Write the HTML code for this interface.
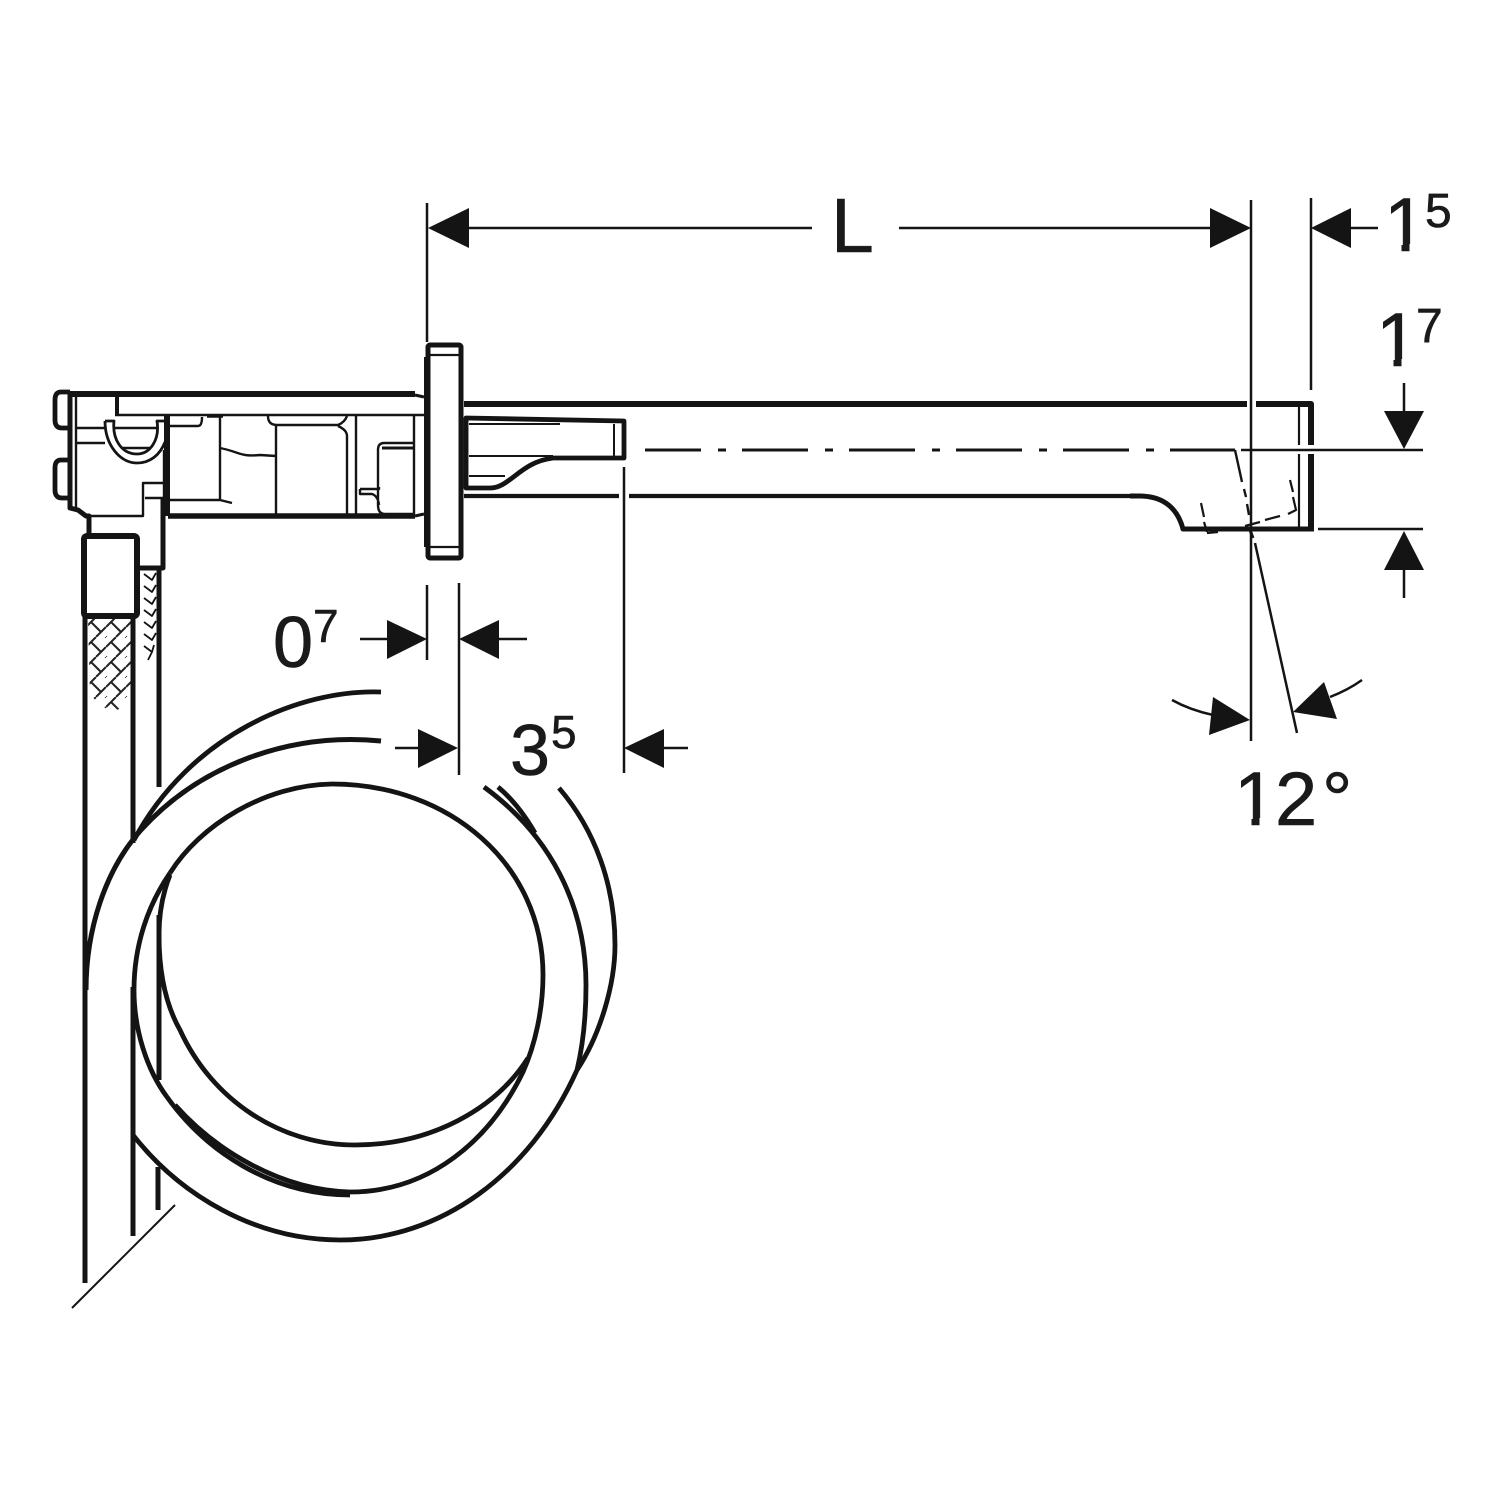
<!DOCTYPE html>
<html><head><meta charset="utf-8"><style>html,body{margin:0;padding:0;background:#fff}svg{display:block}text{font-family:"Liberation Sans",sans-serif;fill:#1a1a1a;stroke:#1a1a1a;stroke-width:.6}</style></head>
<body>
<svg width="1500" height="1500" viewBox="0 0 1500 1500" xmlns="http://www.w3.org/2000/svg">
<defs>
<pattern id="hb" x="86" y="617" width="20" height="20" patternUnits="userSpaceOnUse">
<path d="M0 10L10 0M10 20L20 10M5 5L15 15M-5 15L5 25M15 -5L25 5" fill="none" stroke="#222" stroke-width="2"/>
</pattern>
</defs>
<rect width="1500" height="1500" fill="#fff"/>
<g fill="none" stroke="#141414" stroke-linecap="butt" stroke-linejoin="round">
<!-- braids -->
<polygon points="88,619 131,619 131,695 124,706 112,713 100,704 90,695" fill="url(#hb)" stroke="none"/>
<path stroke-width="1.8" d="M144,574l8,6l4,-7M144,586l8,6l4,-7M144,598l8,6l4,-7M144,610l8,6l4,-7M144,622l8,6l4,-7M144,634l8,6l4,-7M144,646l8,6l2,-7M152,652l-4,8"/>
<!-- hose tubes -->
<path stroke-width="5" d="M85,617V1283M133,617V843M133,987V1236M159,570V787M159,915V1080M158,1167V1210"/>
<path stroke-width="2" d="M72,1308L175,1205"/>
<!-- hose loops -->
<g stroke-width="4.8">
<path d="M170,873C200,825 265,785 332,784C450,784 543,865 543,975C543,1010 535,1045 523,1072C490,1140 430,1192 350,1192C280,1190 215,1150 175,1105"/>
<path d="M170,873C148,905 134,945 134,990C134,1030 147,1070 167,1097C205,1150 270,1195 350,1195"/>
<path d="M170,875C162,895 159,915 159,935C159,965 163,1000 180,1030C212,1100 280,1145 355,1145C430,1145 495,1110 528,1058"/>
<path d="M484,787C550,835 586,905 586,985C586,1015 583,1045 577,1070C530,1175 440,1240 340,1240C255,1240 180,1195 133,1135"/>
<path d="M498,787C510,797 523,812 535,833"/>
<path d="M559,788C595,830 615,885 615,945C615,985 600,1035 577,1070"/>
<path d="M381,692C300,689 190,735 134,840"/>
<path d="M381,741C290,732 200,765 141,830C105,870 86,930 86,990" stroke-width="5"/>
</g>
<!-- connector -->
<rect x="84" y="536" width="53" height="80" rx="3" stroke-width="6" fill="#fff"/>
<!-- housing -->
<path stroke-width="6" d="M70,394H415"/>
<path stroke-width="5" d="M70,394V508L78,510L86,516H89V534"/>
<path stroke-width="4.8" d="M70,392H61Q55,392 55,400V420Q55,428 62,428H70M70,460H61Q55,460 55,468V490Q55,498 62,498H70"/>
<path stroke-width="6" d="M167,415V516"/>
<path stroke-width="5" d="M163,498V568H138"/>
<path stroke-width="5.5" d="M168,516H415"/>
<path stroke-width="4" d="M117,397V415"/>
<g stroke-width="2.4">
<path d="M76,396V508M115,415H426M76,428H105M76,443H105M115,428H157M90,516H143V483H163M145,498H163M122,448H150M164,450V500"/>
<path stroke-width="2.8" d="M105,421H114C112,440 122,454 137,454C150,454 160,440 157,421H165M105,421C105,445 120,463 137,463C150,463 160,455 165,442"/>
<path d="M168,426H198Q202,426 202,417M220,416V500H168M220,500L232,503M220,448C240,452 240,457 260,455L276,456M276,425V516"/>
<path d="M268,416Q268,425 277,425H338Q345,422 347,416M338,426Q347,430 347,436V515M356,416V516M414,416V516"/>
<path d="M414,443H384Q378,443 378,450V505Q378,514 385,514H414M360,489H379V487M360,489V494H372Q378,496 379,505"/>
</g>
<path stroke-width="3.5" d="M207,416H223"/>
<path stroke-width="3" d="M382,448H414"/>
<path stroke-width="3" d="M415,395L424,397M415,516L424,514"/>
<!-- plate -->
<rect x="428" y="345" width="33" height="213" rx="2" stroke-width="5" fill="#fff"/>
<path stroke-width="4" d="M426,357V547"/>
<path stroke-width="2.2" d="M430,355H459M430,547H459"/>
<!-- spout -->
<path stroke-width="6" d="M464,404H1247M1256,404H1311V445M1311,454V531"/>
<path stroke-width="5" d="M1314,529H1183C1178,510 1165,496 1140,496H1130"/>
<path stroke-width="4.2" d="M464,496H619M629,496H1135"/>
<path stroke-width="2.2" d="M1299,407V445M1299,454V529"/>
<!-- inner piece -->
<path stroke-width="4.8" d="M466,418L624,421V458H553C520,462 510,488 490,488H466Z"/>
<path stroke-width="4.5" d="M466,418V488"/>
<path stroke-width="2" d="M469,424H560M469,456H553M469,476H505M614,424V456"/>
<!-- center line -->
<path stroke-width="3" d="M645,450H701"/>
<path stroke-width="3" stroke-dasharray="8 16 66 17" d="M718,450H1235"/>
<path stroke-width="2.5" d="M1241,450H1423M1318,529H1423"/>
<!-- slanted -->
<path stroke-width="2.4" d="M1235,450L1242,482M1244,489L1246,497M1247,504L1249,515"/>
<path stroke-width="2.2" d="M1201,503L1204,517M1204,522L1207,532M1290,480L1293,492M1293,497L1296,510L1288,514M1280,516L1265,520M1260,522L1245,526M1238,528L1225,530M1218,532L1207,533"/>
<path stroke-width="3" d="M1250,530L1253,538"/>
<path stroke-width="2.5" d="M1255,543L1297,733"/>
<!-- extension lines -->
<path stroke-width="2.5" d="M427,203V342M427,585V660M459,583V775M624,467V773M1251,200V741M1311,198V390"/>
<!-- dimension lines -->
<path stroke-width="2.5" d="M465,228H812M899,228H1215M1345,228H1378M360,639H392M495,639H527M395,748H422M660,748H688M1404,383V415M1404,566V598"/>
<path stroke-width="2.5" d="M1172,700Q1190,710 1213,715M1330,697Q1348,690 1362,680"/>
</g>
<!-- arrowheads -->
<g fill="#141414">
<polygon points="428,228 469,208 469,248"/>
<polygon points="1251,228 1210,208 1210,248"/>
<polygon points="1311,228 1351,208 1351,248"/>
<polygon points="1404,449 1384,411 1424,411"/>
<polygon points="1404,531 1384,570 1424,570"/>
<polygon points="427,639 387,620 387,659"/>
<polygon points="459,639 499,620 499,659"/>
<polygon points="458,748 418,729 418,768"/>
<polygon points="624,748 664,729 664,768"/>
<polygon points="1250,720 1213,697 1209,735"/>
<polygon points="1293,712 1324,682 1337,719"/>
</g>
<!-- labels -->
<text x="831" y="252" font-size="77">L</text>
<text x="1384" y="251" font-size="76">1</text>
<rect x="1385" y="244" width="16.5" height="10" fill="#fff"/><rect x="1409.5" y="244" width="17" height="10" fill="#fff"/>
<text x="1425" y="227" font-size="48">5</text>
<text x="1376" y="366" font-size="76">1</text>
<rect x="1377" y="359" width="16.5" height="10" fill="#fff"/><rect x="1401.5" y="359" width="17" height="10" fill="#fff"/>
<text x="1416" y="342" font-size="48">7</text>
<text x="273" y="667" font-size="72">0</text>
<text x="313" y="642" font-size="46">7</text>
<text x="510" y="775" font-size="72">3</text>
<text x="551" y="748" font-size="46">5</text>
<text y="825" font-size="76"><tspan x="1234">1</tspan><tspan x="1275">2</tspan><tspan x="1322">°</tspan></text>
<rect x="1235" y="818" width="16.5" height="10" fill="#fff"/><rect x="1259.5" y="818" width="14.5" height="10" fill="#fff"/>
</svg>
</body></html>
